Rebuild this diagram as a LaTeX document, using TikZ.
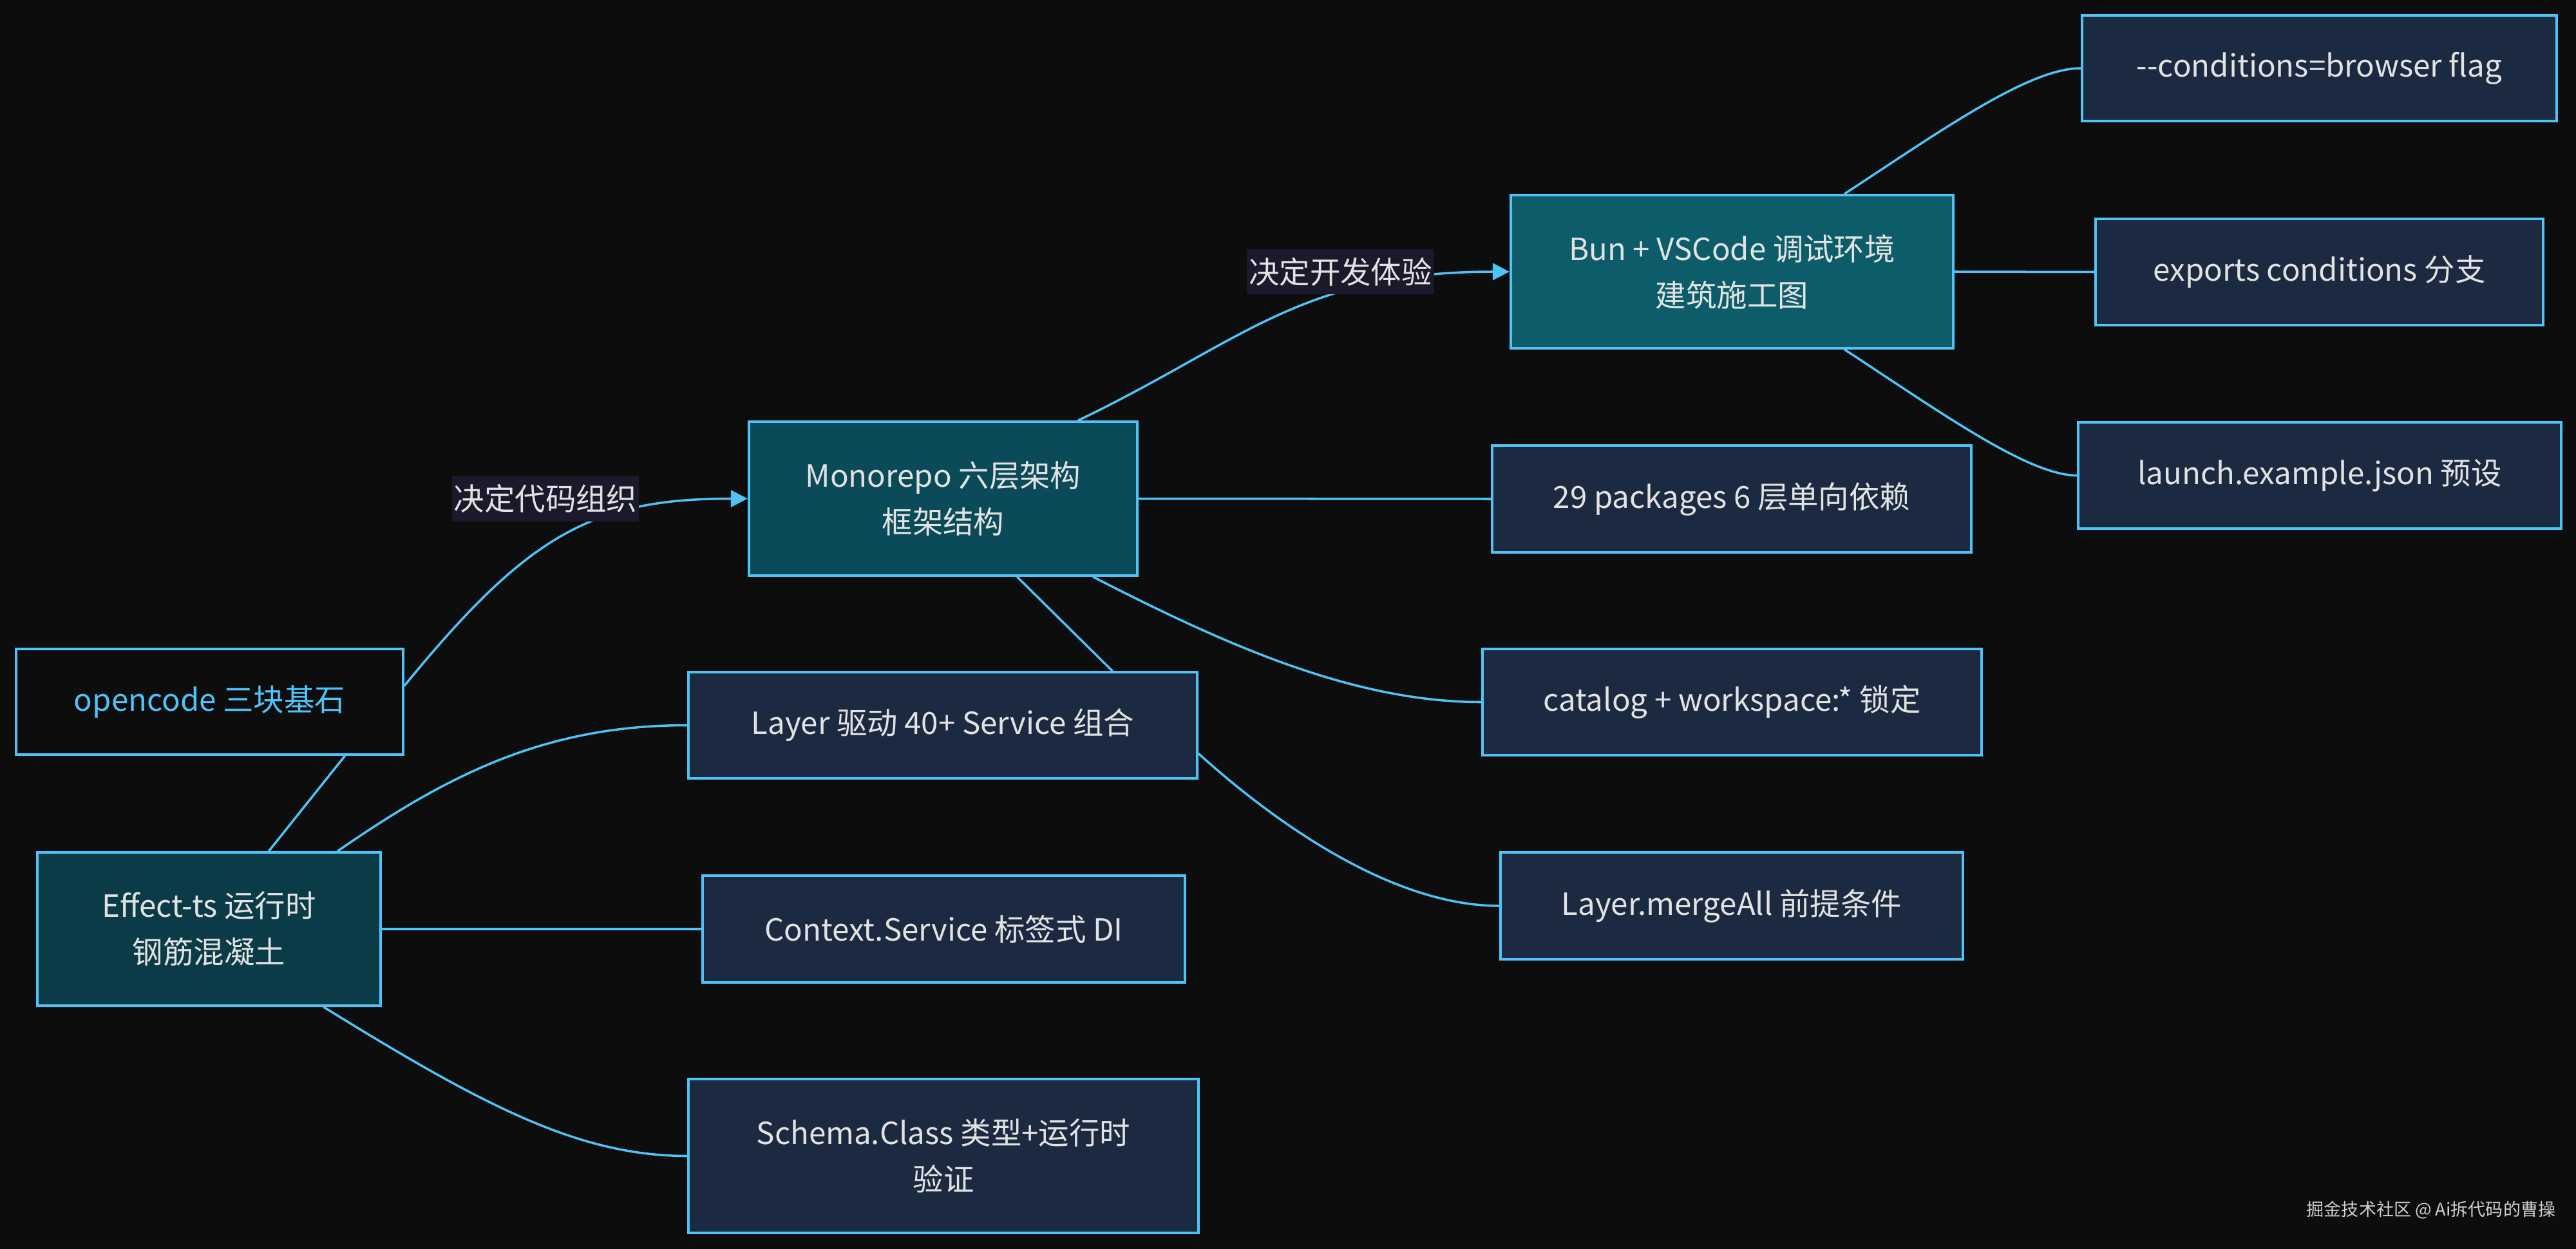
\documentclass[tikz,border=0pt]{standalone}
\usepackage{fontspec}
\setmainfont{Noto Sans CJK SC}
\usepackage{xcolor}
\usepackage{tikz}
\usetikzlibrary{arrows.meta}

\definecolor{bgdark}{HTML}{0D0D0D}
\definecolor{edgeblue}{HTML}{4FC3F7}
\definecolor{txtlight}{HTML}{E2E2E2}
\definecolor{leafnavy}{HTML}{1B2A40}
\definecolor{monoteal}{HTML}{0B4A58}
\definecolor{bunteal}{HTML}{0D5C6A}
\definecolor{effteal}{HTML}{0A3B47}
\definecolor{labelbg}{HTML}{1A1A2C}
\definecolor{credgray}{HTML}{CFCFCF}

\begin{document}
\begin{tikzpicture}[x=1cm, y=-1cm, line cap=round,
  box/.style={draw=edgeblue, line width=1.2pt, text=txtlight, align=center,
    inner sep=0pt, font=\fontsize{13.5}{20.5}\selectfont},
  leaf/.style={box, fill=leafnavy},
  link/.style={draw=edgeblue, line width=1pt},
  tip/.style={-{Triangle[length=0.26cm, width=0.26cm]}},
  elabel/.style={fill=labelbg, text=txtlight, inner xsep=0.03cm, inner ysep=0.13cm,
    font=\fontsize{13.5}{16}\selectfont}]
  \fill[bgdark] (0,0) rectangle (40,19.4);
  \useasboundingbox (0,0) rectangle (40,19.4);

  % left column
  \node[box, fill=bgdark, text=edgeblue, minimum width=6.01cm, minimum height=1.64cm]
    (open) at (3.255,10.9) {opencode 三块基石};
  \node[box, fill=effteal, minimum width=5.33cm, minimum height=2.38cm]
    (effect) at (3.245,14.43) {Effect-ts 运行时\\钢筋混凝土};

  % middle column
  \node[box, fill=monoteal, minimum width=6.03cm, minimum height=2.39cm]
    (mono) at (14.645,7.745) {Monorepo 六层架构\\框架结构};
  \node[leaf, minimum width=7.9cm, minimum height=1.65cm]
    (layer) at (14.64,11.265) {Layer 驱动 40+ Service 组合};
  \node[leaf, minimum width=7.49cm, minimum height=1.66cm]
    (ctx) at (14.655,14.43) {Context.Service 标签式 DI};
  \node[leaf, minimum width=7.92cm, minimum height=2.39cm]
    (schema) at (14.65,17.955) {Schema.Class 类型+运行时\\验证};

  % third column
  \node[box, fill=bunteal, minimum width=6.87cm, minimum height=2.38cm]
    (bun) at (26.895,4.22) {Bun + VSCode 调试环境\\建筑施工图};
  \node[leaf, minimum width=7.44cm, minimum height=1.66cm]
    (pkgs) at (26.89,7.75) {29 packages 6 层单向依赖};
  \node[leaf, minimum width=7.75cm, minimum height=1.65cm]
    (catalog) at (26.895,10.905) {catalog + workspace:* 锁定};
  \node[leaf, minimum width=7.18cm, minimum height=1.66cm]
    (merge) at (26.89,14.07) {Layer.mergeAll 前提条件};

  % right column
  \node[leaf, minimum width=7.37cm, minimum height=1.64cm]
    (cond) at (36.015,1.06) {-{}-conditions=browser flag};
  \node[leaf, minimum width=6.95cm, minimum height=1.65cm]
    (expo) at (36.015,4.225) {exports conditions 分支};
  \node[leaf, minimum width=7.5cm, minimum height=1.65cm]
    (launch) at (36.02,7.385) {launch.example.json 预设};

  % connectors
  \draw[link, tip] ([yshift=0.25cm]open.east) .. controls (8.2,8.3) and (9.2,7.745) .. (mono.west);
  \draw[link, tip] ([xshift=2.1cm]mono.north) .. controls (19.3,5.3) and (20.2,4.22) .. (bun.west);
  \draw[link] ([xshift=2.1cm]open.south) -- ([xshift=0.93cm]effect.north);
  \draw[link] ([xshift=2.0cm]effect.north) .. controls (7.0,12.0) and (8.5,11.265) .. (layer.west);
  \draw[link] (effect.east) -- (ctx.west);
  \draw[link] ([xshift=1.78cm]effect.south) .. controls (7.53,17.19) and (9.0,17.955) .. (schema.west);
  \draw[link] (mono.east) -- (pkgs.west);
  \draw[link] ([xshift=2.33cm]mono.south) .. controls (19.0,10.0) and (21.0,10.905) .. (catalog.west);
  \draw[link] ([xshift=1.15cm]mono.south) -- ([xshift=2.63cm]layer.north);
  \draw[link] ([yshift=-0.44cm]layer.east) .. controls (19.6,12.6) and (21.5,14.07) .. (merge.west);
  \draw[link] ([xshift=1.75cm]bun.north) .. controls (30.14,2.03) and (31.5,1.06) .. (cond.west);
  \draw[link] (bun.east) -- (expo.west);
  \draw[link] ([xshift=1.75cm]bun.south) .. controls (30.14,6.41) and (31.5,7.385) .. (launch.west);

  % edge labels
  \node[elabel] (lcode) at (8.47,7.745) {决定代码组织};
  \node[elabel] (ldev) at (20.815,4.22) {决定开发体验};

  \node[text=credgray, inner sep=0pt, font=\fontsize{7.7}{9}\selectfont]
    (credit) at (37.75,18.79) {掘金技术社区 @ Ai拆代码的曹操};
\end{tikzpicture}
\end{document}
